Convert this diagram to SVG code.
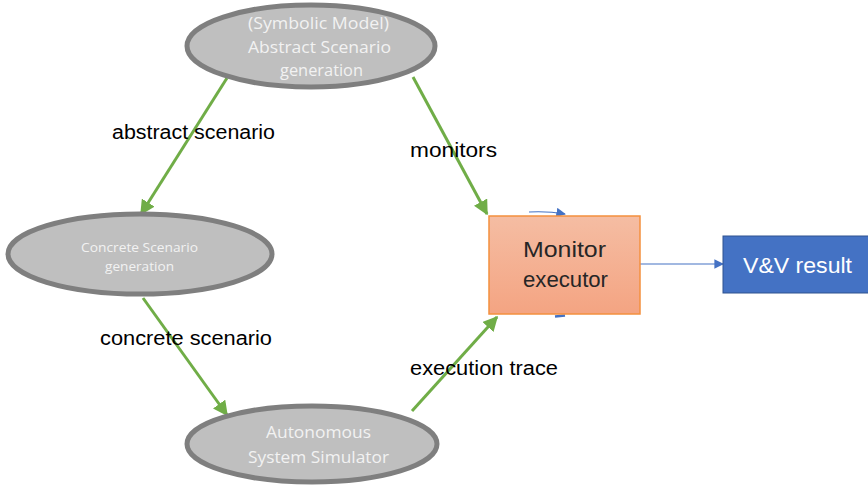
<svg xmlns="http://www.w3.org/2000/svg" width="868" height="487" viewBox="0 0 868 487">
  <style>
    .ell { fill: #bfbfbf; stroke: #7f7f7f; stroke-width: 5; }
    .ell-text { font-family: "Open Sans", "Liberation Sans", sans-serif; fill: #f2f2f2; text-anchor: start; }
    .lbl { font-family: "Liberation Sans", "Open Sans", sans-serif; font-size: 20px; fill: #000000; }
    .flow { fill: none; stroke: #70ad47; stroke-width: 3; }
    .blue { fill: none; stroke: #4472c4; stroke-width: 1.2; }
    .box-text { font-family: "Liberation Sans", "Open Sans", sans-serif; font-size: 22px; }
  </style>
  <defs>
    <marker id="greenHead" viewBox="0 0 10 10" refX="9" refY="5" markerWidth="5" markerHeight="5" markerUnits="strokeWidth" orient="auto">
      <path d="M0,0 L10,5 L0,10 Z" fill="#70ad47"/>
    </marker>
    <marker id="blueHead" viewBox="0 0 10 10" refX="9" refY="5" markerWidth="8" markerHeight="8" markerUnits="strokeWidth" orient="auto">
      <path d="M0,0 L10,5 L0,10 Z" fill="#4472c4"/>
    </marker>
    <linearGradient id="monitorFill" x1="0" y1="0" x2="0" y2="1">
      <stop offset="0" stop-color="#f5bda3"/>
      <stop offset="1" stop-color="#f4a482"/>
    </linearGradient>
  </defs>

  <!-- connectors -->
  <g id="connectors">
    <line class="flow" x1="227" y1="78" x2="141" y2="214" marker-end="url(#greenHead)"/>
    <line class="flow" x1="413" y1="77" x2="487" y2="214" marker-end="url(#greenHead)"/>
    <line class="flow" x1="143" y1="298" x2="227" y2="415" marker-end="url(#greenHead)"/>
    <line class="flow" x1="412" y1="411" x2="497" y2="317" marker-end="url(#greenHead)"/>
    <line class="blue" x1="640" y1="264" x2="723" y2="264" marker-end="url(#blueHead)"/>
    <path class="blue" d="M529,212 Q548,211 565,214" marker-end="url(#blueHead)"/>
    <path d="M555,316.5 L565,315.5" stroke="#4472c4" stroke-width="2.5" fill="none"/>
  </g>

  <!-- connector labels -->
  <g id="labels">
    <text class="lbl" x="112" y="139" textLength="163" lengthAdjust="spacingAndGlyphs">abstract scenario</text>
    <text class="lbl" x="410" y="157" textLength="87" lengthAdjust="spacingAndGlyphs">monitors</text>
    <text class="lbl" x="100" y="345" textLength="172" lengthAdjust="spacingAndGlyphs">concrete scenario</text>
    <text class="lbl" x="410" y="375" textLength="148" lengthAdjust="spacingAndGlyphs">execution trace</text>
  </g>

  <!-- abstract scenario generation -->
  <g id="abstract-generation">
    <ellipse class="ell" cx="311" cy="46" rx="124" ry="41"/>
    <text class="ell-text" font-size="16" x="248" y="29" textLength="141" lengthAdjust="spacingAndGlyphs">(Symbolic Model)</text>
    <text class="ell-text" font-size="16" x="248" y="53" textLength="143" lengthAdjust="spacingAndGlyphs">Abstract Scenario</text>
    <text class="ell-text" font-size="16" x="280" y="76" textLength="83" lengthAdjust="spacingAndGlyphs">generation</text>
  </g>

  <!-- concrete scenario generation -->
  <g id="concrete-generation">
    <ellipse class="ell" cx="140" cy="254" rx="132" ry="40"/>
    <text class="ell-text" font-size="12" x="81" y="252" textLength="117" lengthAdjust="spacingAndGlyphs">Concrete Scenario</text>
    <text class="ell-text" font-size="12" x="105" y="271" textLength="69" lengthAdjust="spacingAndGlyphs">generation</text>
  </g>

  <!-- autonomous system simulator -->
  <g id="simulator">
    <ellipse class="ell" cx="312" cy="444" rx="125" ry="38"/>
    <text class="ell-text" font-size="16" x="266" y="438" textLength="105" lengthAdjust="spacingAndGlyphs">Autonomous</text>
    <text class="ell-text" font-size="16" x="248" y="463" textLength="141" lengthAdjust="spacingAndGlyphs">System Simulator</text>
  </g>

  <!-- monitor executor -->
  <g id="monitor-executor">
    <rect x="489" y="216" width="151" height="98" fill="url(#monitorFill)" stroke="#f4903e" stroke-width="1.5"/>
    <text class="box-text" fill="#262626" x="523" y="257" textLength="83" lengthAdjust="spacingAndGlyphs">Monitor</text>
    <text class="box-text" fill="#262626" x="523" y="287" textLength="85" lengthAdjust="spacingAndGlyphs">executor</text>
  </g>

  <!-- V&V result -->
  <g id="vv-result">
    <rect x="723" y="236" width="150" height="57" fill="#4472c4" stroke="#2f528f" stroke-width="1"/>
    <text class="box-text" fill="#ffffff" x="743" y="273" textLength="109" lengthAdjust="spacingAndGlyphs">V&amp;V result</text>
  </g>
</svg>
